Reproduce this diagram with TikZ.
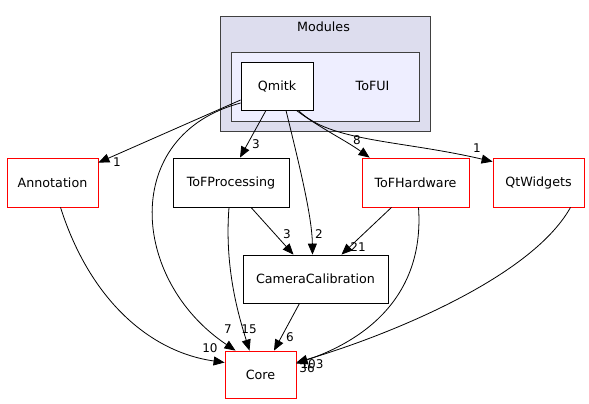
\documentclass[tikz,border=0pt]{standalone}
\usepackage{fontspec}
\setmainfont{DejaVu Sans}
\usetikzlibrary{arrows.meta}
\begin{document}
\begin{tikzpicture}[x=1pt,y=-1pt,
  box/.style={draw=black,fill=white,line width=0.8pt,inner sep=0pt,font=\fontsize{12.7}{15}\selectfont},
  redbox/.style={box,draw=red},
  cluster/.style={draw=black!75,line width=0.8pt,inner sep=0pt},
  title/.style={inner sep=0pt,font=\fontsize{12.7}{15}\selectfont},
  edge/.style={draw=black,line width=0.8pt,-{Triangle[length=11pt,width=9pt]}},
  lab/.style={inner sep=0pt,font=\fontsize{12}{14}\selectfont}]
\useasboundingbox (0,0) rectangle (589,404);
% clusters
\node[cluster,fill={rgb,255:red,221;green,221;blue,238},minimum width=210pt,minimum height=115pt] (modules) at (325,73.5) {};
\node[title] (modlab) at (323.5,27) {Modules};
\node[cluster,fill={rgb,255:red,238;green,238;blue,255},minimum width=188pt,minimum height=69pt] (tofui) at (325,86.5) {};
\node[title] (tofuilab) at (372.5,86) {ToFUI};
% nodes
\node[box,minimum width=72pt,minimum height=48pt] (qmitk) at (277,86) {Qmitk};
\node[redbox,minimum width=91pt,minimum height=49pt] (annot) at (52.5,182.5) {Annotation};
\node[box,minimum width=116pt,minimum height=49pt] (tofproc) at (231,182.5) {ToFProcessing};
\node[redbox,minimum width=107pt,minimum height=49pt] (tofhw) at (415.5,182.5) {ToFHardware};
\node[redbox,minimum width=91pt,minimum height=49pt] (qtw) at (538.5,182.5) {QtWidgets};
\node[box,minimum width=145pt,minimum height=48pt] (camcal) at (315.5,279) {CameraCalibration};
\node[redbox,minimum width=71pt,minimum height=47pt] (core) at (260.5,374.5) {Core};
% edges
\draw[edge] ([yshift=-14pt]qmitk.west) -- ([yshift=-5pt]annot.north east);
\draw[edge] ([xshift=-11pt]qmitk.south) -- ([xshift=9pt]tofproc.north);
\draw[edge] ([yshift=-17pt]qmitk.west) .. controls (120,135) and (130,280) .. ([xshift=-25pt]core.north);
\draw[edge] ([xshift=9pt]qmitk.south) .. controls (298,160) and (312,215) .. ([xshift=-3pt]camcal.north);
\draw[edge] ([xshift=-17pt]qmitk.south east) .. controls (320,128) and (345,140) .. ([xshift=8pt]tofhw.north west);
\draw[edge] ([xshift=-15pt]qmitk.south east) .. controls (330,142) and (400,140) .. ([yshift=-4pt]qtw.north west);
\draw[edge] ([xshift=20pt]tofproc.south) -- ([xshift=-22pt]camcal.north);
\draw[edge] ([xshift=-2pt]tofproc.south) .. controls (224,270) and (240,320) .. ([xshift=-11pt]core.north);
\draw[edge] ([xshift=-24pt]tofhw.south) -- ([xshift=26pt]camcal.north);
\draw[edge] ([xshift=3pt]tofhw.south) .. controls (425,300) and (360,342) .. ([yshift=11pt]core.east);
\draw[edge] ([xshift=32pt]qtw.south) .. controls (530,280) and (380,338) .. ([yshift=12pt]core.east);
\draw[edge] ([xshift=-16pt]camcal.south) -- ([xshift=13.5pt]core.north);
\draw[edge] ([xshift=8pt]annot.south) .. controls (90,300) and (150,352) .. ([yshift=12pt]core.west);
% labels
\node[lab] (l1) at (117,162) {1};
\node[lab] (l2) at (256,144) {3};
\node[lab] (l3) at (228,329) {7};
\node[lab] (l4) at (319,234) {2};
\node[lab] (l5) at (357,140) {8};
\node[lab] (l6) at (477,148) {1};
\node[lab] (l7) at (287,234) {3};
\node[lab] (l8) at (249,329) {15};
\node[lab] (l9) at (358,247) {21};
\node[lab] (l10) at (290,337) {6};
\node[lab] (l11) at (210,348) {10};
\node[lab] (l12) at (312,364) {103};
\node[lab] (l13) at (307,368) {36};
\end{tikzpicture}
\end{document}
